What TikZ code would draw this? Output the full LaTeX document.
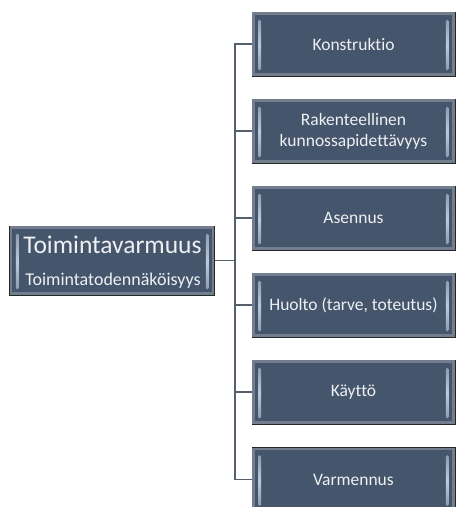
\documentclass[tikz,border=0pt]{standalone}
\usepackage{fontspec}
\setmainfont[Ligatures={NoCommon,NoRare}]{Carlito}
\usetikzlibrary{calc}
\definecolor{slate}{HTML}{45556B}
\definecolor{band}{HTML}{727E8E}
\definecolor{hilite}{HTML}{BCCADC}
\definecolor{linec}{HTML}{56606B}
\definecolor{txt}{HTML}{EEF0F3}
\tikzset{
  branchbox/.style={draw=black!85, line width=0.9pt, fill=slate, minimum width=203pt, minimum height=64pt,
    inner sep=0pt, align=center, text=txt, font=\fontsize{17.5}{21}\selectfont},
  rootbox/.style={draw=black!85, line width=0.9pt, fill=slate, minimum width=205pt, minimum height=69pt, inner sep=0pt},
  roottext/.style={text=txt, inner sep=0pt},
  conn/.style={draw=linec, line width=1.4pt},
  strip/.style={rounded corners=1.5pt, top color=slate!40!hilite, bottom color=slate!40!hilite, middle color=hilite},
}
\newcommand\bevelbox[1]{%
  \draw[band, line width=2.2pt] ($(#1.south west)+(1.9,1.9)$) rectangle ($(#1.north east)+(-1.9,-1.9)$);
  \shade[strip] ($(#1.north west)+(6.5,-8)$) rectangle ($(#1.south west)+(9.5,6)$);
  \shade[strip] ($(#1.north east)+(-9.5,-8)$) rectangle ($(#1.south east)+(-6.5,6)$);
}
\begin{document}
\begin{tikzpicture}[x=1pt,y=1pt]
\useasboundingbox (0,0) rectangle (457,-507);
\coordinate (bus) at (235,0);
\node[rootbox] (root) at (112.3,-260.5) {};
\bevelbox{root}
\node[roottext, font=\fontsize{25.5}{28}\selectfont] (t1) at (112.5,-245) {Toimintavarmuus};
\node[roottext, font=\fontsize{18}{21}\selectfont] (t2) at (113,-281) {Toimintatodennäköisyys};

\node[branchbox] (k1) at (353.5,-44) {Konstruktio};
\node[branchbox] (k2) at (353.5,-131) {Rakenteellinen\\kunnossapidettävyys};
\node[branchbox] (k3) at (353.5,-218) {Asennus};
\node[branchbox] (k4) at (353.5,-305) {Huolto (tarve, toteutus)};
\node[branchbox] (k5) at (353.5,-392) {Käyttö};
\node[branchbox] (k6) at (353.5,-479.5) {Varmennus};
\foreach \n in {k1,k2,k3,k4,k5,k6} {\bevelbox{\n}}

\draw[conn] (root.east) -- (root.east -| bus);
\draw[conn] (k1.west) -| (bus |- k6.west) -- (k6.west);
\foreach \n in {k2,k3,k4,k5} {\draw[conn] (\n.west) -- (\n.west -| bus);}
\end{tikzpicture}
\end{document}
